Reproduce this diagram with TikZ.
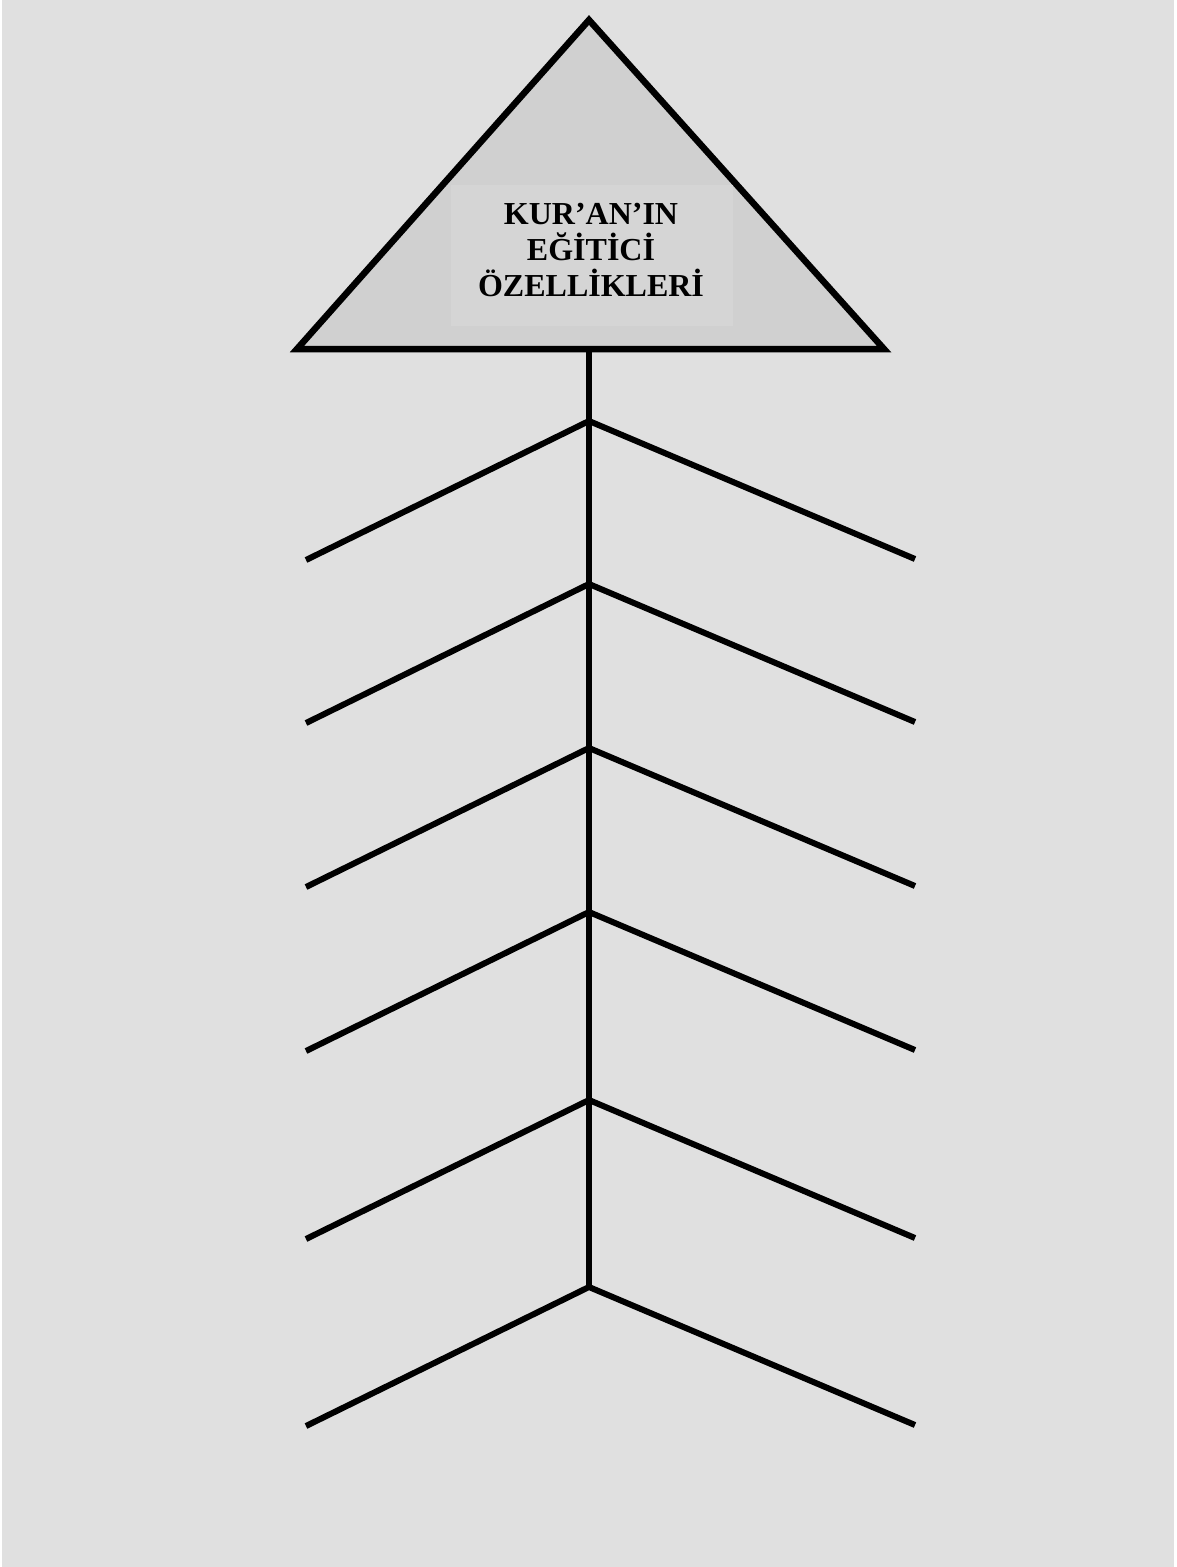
\documentclass[tikz,border=0pt]{standalone}
\usepackage{fontspec}
\setmainfont{Liberation Serif}
\definecolor{bg}{HTML}{E0E0E0}
\definecolor{trifill}{HTML}{D0D0D0}
\definecolor{boxfill}{HTML}{D5D5D5}
\tikzset{
  bone/.style={line width=6pt, black},
  headtri/.style={line width=6.5pt, black, fill=trifill, line join=miter},
  titlebox/.style={fill=boxfill, minimum width=282pt, minimum height=141pt, inner sep=0pt,
    align=center, font=\fontsize{32}{36}\selectfont\bfseries}
}
\begin{document}
\begin{tikzpicture}[x=1pt,y=-1pt]
\useasboundingbox (0,0) rectangle (1177,1567);
\fill[white] (0,0) rectangle (1177,1567);
\fill[bg] (2,0) rectangle (1174,1567);
% head
\coordinate (apex) at (589,20);
\coordinate (bl) at (297,349);
\coordinate (br) at (884,349);
\draw[headtri] (apex) -- (bl) -- (br) -- cycle;
\fill[boxfill] (451,185) rectangle (733,326);
\node[align=center, font=\fontsize{32}{36}\selectfont\bfseries, inner sep=0pt] (title) at (591,250) {KUR’AN’IN\\EĞİTİCİ\\ÖZELLİKLERİ};
% spine
\coordinate (top) at (589,349);
\coordinate (j1) at (589,421);
\coordinate (j2) at (589,584);
\coordinate (j3) at (589,748);
\coordinate (j4) at (589,912);
\coordinate (j5) at (589,1100);
\coordinate (j6) at (589,1287);
\draw[bone] (top) -- (j6);
% branches
\foreach \i/\y in {1/421,2/584,3/748,4/912,5/1100,6/1287}{
  \coordinate (l\i) at (306,\y+139);
  \coordinate (r\i) at (915,\y+138);
  \draw[bone, line join=miter] (l\i) -- (j\i) -- (r\i);
}
\end{tikzpicture}
\end{document}
